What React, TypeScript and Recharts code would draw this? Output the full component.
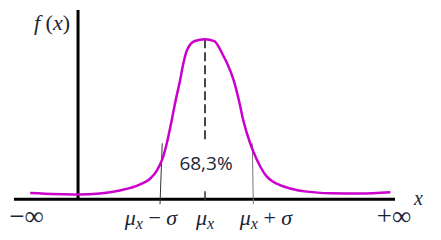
import { Line, LineChart, ReferenceLine, XAxis, YAxis } from "recharts";

// x in units of sigma (mu = 0), f relative to the peak
const xs = [-3.8, -2.76, -2.28, -1.85, -1.41, -1.2, -1.04, -0.93, -0.83, -0.72, -0.65, -0.54, -0.47, -0.39, -0.22, 0,
  0.2, 0.39, 0.48, 0.62, 0.75, 0.83, 0.98, 1.05, 1.2, 1.34, 1.48, 1.63, 1.85, 2.22, 2.72, 3.37, 4.03];
const fs = [0.039, 0.03, 0.036, 0.055, 0.093, 0.127, 0.183, 0.249, 0.35, 0.499, 0.602, 0.746, 0.85, 0.933, 0.989, 1.0,
  0.989, 0.902, 0.85, 0.746, 0.602, 0.496, 0.352, 0.299, 0.205, 0.143, 0.11, 0.089, 0.068, 0.048, 0.038, 0.036, 0.044];

const tickValues = [-3.88, -1, 0, 1, 4.11];
const tickLabels = ["−∞", "μx − σ", "μx", "μx + σ", "+∞"];
const tickShift = [0, -8, 0, 15, 0];

const X_DOMAIN: [number, number] = [-4.152, 4.13];
const Y_DOMAIN: [number, number] = [-0.0356, 1.183];
const yAxisAt = -2.76;
const sigmaLeft = [-0.93, -0.978];
const sigmaRight = [1.028, 1.05];
const sigmaSpan = [0.35, -0.031];
const muDash = [1.0, 0.358];
const muTick = [0.05, -0.025];
const areaLabel = "68,3%";

const data = xs.map((x, i) => ({ x, f: fs[i] }));

const INK = "#1c2535";
const SERIF = "'Liberation Serif', 'DejaVu Serif', serif";
const serif = { fontFamily: SERIF };

function TickLabel(props: any) {
  const { x, y, index } = props;
  const label: string = tickLabels[index];
  const cx = x + tickShift[index];
  const by = y + 12;
  if (label.startsWith("μx")) {
    const rest = label.slice(2);
    return (
      <text x={cx} y={by} textAnchor="middle" style={serif} fontSize={22} fill={INK}>
        <tspan fontStyle="italic">μ</tspan>
        <tspan fontStyle="italic" fontSize={16} dy={4}>x</tspan>
        {rest && <tspan dy={-4}>{rest.replace("σ", "")}</tspan>}
        {rest && <tspan fontStyle="italic">σ</tspan>}
      </text>
    );
  }
  return (
    <text x={cx} y={by} textAnchor="middle" style={serif} fontSize={27} fill={INK}>
      {label}
    </text>
  );
}

export default function App() {
  return (
    <div style={{ position: "absolute", left: 0, top: 0, background: "#fff" }}>
      <LineChart width={441} height={240} data={data} margin={{ top: 10, right: 46, bottom: 0, left: 14 }}>
        <XAxis
          dataKey="x"
          type="number"
          domain={X_DOMAIN}
          allowDataOverflow
          ticks={tickValues}
          interval={0}
          axisLine={false}
          tickLine={false}
          height={35}
          tick={<TickLabel />}
        />
        <YAxis hide type="number" domain={Y_DOMAIN} allowDataOverflow />
        <ReferenceLine
          y={0}
          stroke="#000"
          strokeWidth={3}
          label={(p: any) => (
            <text x={p.viewBox.x + p.viewBox.width + 19} y={p.viewBox.y + 6} style={serif} fontStyle="italic" fontSize={20} fill={INK}>
              x
            </text>
          )}
        />
        <ReferenceLine
          segment={[{ x: yAxisAt, y: 0 }, { x: yAxisAt, y: Y_DOMAIN[1] }]}
          stroke="#000"
          strokeWidth={3}
          label={(p: any) => (
            <text x={p.viewBox.x - 8} y={p.viewBox.y + 20} textAnchor="end" style={serif} fontSize={22} fill={INK}>
              <tspan fontStyle="italic">f</tspan>
              <tspan> (</tspan>
              <tspan fontStyle="italic">x</tspan>
              <tspan>)</tspan>
            </text>
          )}
        />
        <ReferenceLine
          segment={[{ x: sigmaLeft[0], y: sigmaSpan[0] }, { x: sigmaLeft[1], y: sigmaSpan[1] }]}
          stroke="#333"
          strokeWidth={1}
        />
        <ReferenceLine
          segment={[{ x: sigmaRight[0], y: sigmaSpan[0] }, { x: sigmaRight[1], y: sigmaSpan[1] }]}
          stroke="#777"
          strokeWidth={1}
        />
        <ReferenceLine
          segment={[{ x: 0, y: muDash[0] }, { x: 0, y: muDash[1] }]}
          stroke="#333"
          strokeWidth={1.8}
          strokeDasharray="9 4"
          label={(p: any) => (
            <text x={p.viewBox.x + 1} y={p.viewBox.y + p.viewBox.height + 28} textAnchor="middle" style={{ fontFamily: "'Open Sans', sans-serif" }} fontSize={19} fill={INK}>
              {areaLabel}
            </text>
          )}
        />
        <ReferenceLine segment={[{ x: 0, y: muTick[0] }, { x: 0, y: muTick[1] }]} stroke="#333" strokeWidth={1.5} strokeDasharray="9 4" />
        <Line
          dataKey="f"
          type="monotone"
          stroke="#CC00CC"
          strokeWidth={2.5}
          dot={false}
          isAnimationActive={false}
        />
      </LineChart>
    </div>
  );
}
